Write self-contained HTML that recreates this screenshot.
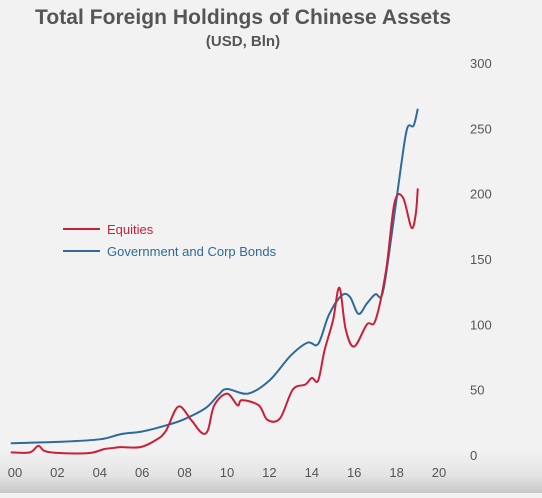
<!DOCTYPE html>
<html><head><meta charset="utf-8"><style>
body{margin:0;width:542px;height:493px;overflow:hidden;font-family:"Liberation Sans",sans-serif;background:linear-gradient(#f2f2f2 0,#f2f2f2 450px,#e4e4e4 475px,#c8c8c8 493px);}
</style></head><body>
<svg id="c" width="542" height="493" xmlns="http://www.w3.org/2000/svg">
<text x="243" y="24" text-anchor="middle" font-size="21" font-weight="bold" fill="#555" textLength="416">Total Foreign Holdings of Chinese Assets</text>
<text x="243" y="46" text-anchor="middle" font-size="15" font-weight="bold" fill="#555">(USD, Bln)</text>
<g>
<line x1="63" y1="229" x2="100" y2="229" stroke="#c8203a" stroke-width="2"/>
<text x="107" y="234" font-size="13" fill="#c8203a">Equities</text>
<line x1="63" y1="251" x2="100" y2="251" stroke="#2e6a9a" stroke-width="2"/>
<text x="107" y="256" font-size="13" fill="#2e6a9a">Government and Corp Bonds</text>
</g>
<g id="axes"></g><g id="lines"></g>
</svg>
<script>
const yTicks=[0,50,100,150,200,250,300];
const xTicks=[2000,2002,2004,2006,2008,2010,2012,2014,2016,2018,2020];
const xTickLabels=["00","02","04","06","08","10","12","14","16","18","20"];
const eqYears=[1999.8,2000.7,2001.1,2001.4,2002.1,2003.5,2004.2,2004.7,2005.0,2005.9,2006.6,2007.1,2007.7,2008.3,2008.8,2009.1,2009.4,2010.0,2010.5,2010.7,2011.5,2011.9,2012.5,2013.1,2013.7,2014.0,2014.3,2014.6,2015.0,2015.3,2015.6,2016.0,2016.6,2017.0,2017.5,2017.9,2018.3,2018.7,2018.9,2019.0];
const eqVals=[2,2,7,3,1.5,1.5,4.5,5.5,6,6,11,18,37,27,17,19,38,47,38,42,38,27,28,50,54,59,57,80,103,128,96,83,100,103,141,193,197,174,184,204];
const bdYears=[1999.8,2002,2004,2005,2006,2007.2,2008,2009,2009.6,2010,2011,2012,2013,2013.8,2014.3,2014.8,2015.4,2015.8,2016.2,2016.6,2017.0,2017.3,2017.6,2018.2,2018.5,2018.8,2019.0];
const bdVals=[9,10,12,16,18,23,27.5,36,46,50.5,47,57,76,86,85,107,122,121,108,116,123,122,149,220,250,252,265];
const X=y=>15+(y-2000)*21.2, Y=v=>455-v*1.3067;
const ns="http://www.w3.org/2000/svg",ax=document.getElementById('axes'),ln=document.getElementById('lines');
yTicks.forEach(t=>{const e=document.createElementNS(ns,'text');


e.setAttribute('x',470);e.setAttribute('y',Y(t)+5);e.setAttribute('font-size','13');e.setAttribute('fill','#555');e.textContent=t;ax.appendChild(e);});
xTicks.forEach((t,i)=>{const e=document.createElementNS(ns,'text');


e.setAttribute('x',X(t));e.setAttribute('y',477);e.setAttribute('text-anchor','middle');e.setAttribute('font-size','13');e.setAttribute('fill','#555');e.textContent=xTickLabels[i];ax.appendChild(e);});
function line(xs,vs,col,name){
const P=xs.map((x,i)=>[X(x),Y(vs[i])]);
let d='M'+P[0][0]+','+P[0][1];
for(let i=0;i<P.length-1;i++){const p0=P[Math.max(0,i-1)],p1=P[i],p2=P[i+1],p3=P[Math.min(P.length-1,i+2)];
d+=' C'+(p1[0]+(p2[0]-p0[0])/6)+','+(p1[1]+(p2[1]-p0[1])/6)+' '+(p2[0]-(p3[0]-p1[0])/6)+','+(p2[1]-(p3[1]-p1[1])/6)+' '+p2[0]+','+p2[1];}
const p=document.createElementNS(ns,'path');


p.setAttribute('d',d);p.setAttribute('fill','none');p.setAttribute('stroke',col);p.setAttribute('stroke-width','2');ln.appendChild(p);}
line(bdYears,bdVals,'#2e6a9a','bonds-line');
line(eqYears,eqVals,'#c8203a','equities-line');
</script>
</body></html>
